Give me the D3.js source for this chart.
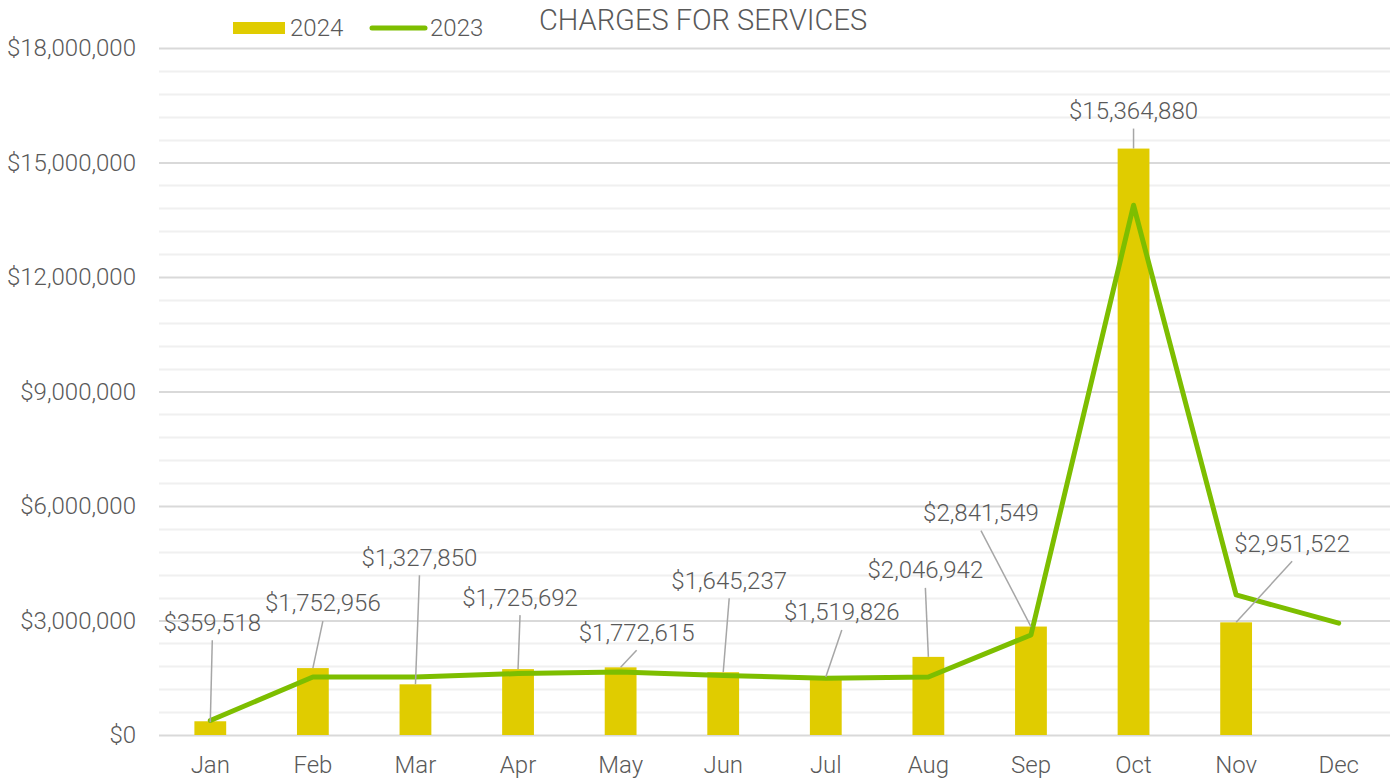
<!DOCTYPE html>
<html><head><meta charset="utf-8">
<script src="https://cdn.jsdelivr.net/npm/d3@7/dist/d3.min.js"></script>
<style>
html,body{margin:0;padding:0;background:#fff;}
text{font-family:Roboto, "Noto Sans", sans-serif;font-weight:300;fill:#595959;}
</style></head>
<body><svg id="chart" width="1392" height="780"></svg>
<script>
const months = ["Jan","Feb","Mar","Apr","May","Jun","Jul","Aug","Sep","Oct","Nov","Dec"];
const values2024 = [359518,1752956,1327850,1725692,1772615,1645237,1519826,2046942,2841549,15364880,2951522,null];
const values2023 = [380000,1520000,1520000,1610000,1650000,1560000,1490000,1520000,2620000,13880000,3670000,2930000];
const yTicks = [0,3000000,6000000,9000000,12000000,15000000,18000000];
const title = "CHARGES FOR SERVICES";
const seriesNames = ["2024","2023"];

const W=1392,H=780;
const m={left:159,right:2,top:48,bottom:45};
const svg=d3.select("#chart");
const x=d3.scaleBand().domain(months).range([m.left,W-m.right]).paddingInner(0.69).paddingOuter(0.345);
const y=d3.scaleLinear().domain([0,18000000]).range([H-m.bottom,m.top]);

// minor grid
const minor=d3.range(0,18000001,600000).filter(v=>v%3000000!==0);
svg.append("g").selectAll("line").data(minor).join("line")
 .attr("x1",m.left).attr("x2",W-m.right).attr("y1",d=>Math.round(y(d))+0.5).attr("y2",d=>Math.round(y(d))+0.5)
 .attr("stroke","#f0f0f0").attr("stroke-width",2);
// major grid via axis
const yAxis=d3.axisLeft(y).tickValues(yTicks).tickSize(-(W-m.right-m.left)).tickPadding(23)
 .tickFormat(d=>"$"+d3.format(",")(d));
const gy=svg.append("g").attr("transform",`translate(${m.left},0)`).call(yAxis);
gy.select(".domain").remove();
gy.selectAll(".tick line").attr("stroke","#d9d9d9").attr("stroke-width",2);
gy.selectAll(".tick text").attr("font-size",24).style("font-family","Roboto").style("font-weight",300).attr("fill","#595959");

const xAxis=d3.axisBottom(x).tickSize(0).tickPadding(21);
const gx=svg.append("g").attr("transform",`translate(0,${H-m.bottom})`).call(xAxis);
gx.select(".domain").remove();
gx.selectAll(".tick text").attr("font-size",24).attr("fill","#595959");

// bars
svg.append("g").selectAll("rect").data(months.map((mo,i)=>({mo,v:values2024[i]})).filter(d=>d.v!=null)).join("rect")
 .attr("x",d=>x(d.mo)).attr("width",x.bandwidth()).attr("y",d=>y(d.v)).attr("height",d=>y(0)-y(d.v))
 .attr("fill","#e0cc00");

// line
const line=d3.line().x((d,i)=>x(months[i])+x.bandwidth()/2).y(d=>y(d));
svg.append("path").datum(values2023).attr("d",line).attr("fill","none").attr("stroke","#7dbe00")
 .attr("stroke-width",5).attr("stroke-linejoin","round").attr("stroke-linecap","round");

// data labels with leaders (layout offsets: label center dx, label center dy from bar top)
const labelLayout=[[2,-99],[10,-65],[4,-127],[2,-72],[16,-35],[6,-92],[16,-65],[-3,-87],[-50,-114],[0,-38],[56,-79]];
const lg=svg.append("g");
months.forEach((mo,i)=>{
  const v=values2024[i]; if(v==null) return;
  const bx=x(mo)+x.bandwidth()/2, by=y(v);
  const [dx,dy]=labelLayout[i];
  const lx=bx+dx, ly=by+dy;
  lg.append("line").attr("x1",lx).attr("y1",ly+18).attr("x2",bx).attr("y2",by+(i===0?1:0))
    .attr("stroke","#a6a6a6").attr("stroke-width",1.5);
  lg.append("text").attr("x",lx).attr("y",ly).attr("text-anchor","middle").attr("dy","0.35em")
    .attr("font-size",24).text("$"+d3.format(",")(v));
});

// title
svg.append("text").attr("x",703).attr("y",20).attr("dy","0.35em").attr("text-anchor","middle").attr("font-size",29).text(title);

// legend
const leg=svg.append("g");
leg.append("rect").attr("x",233).attr("y",22).attr("width",52).attr("height",12).attr("fill","#e0cc00");
leg.append("text").attr("x",290).attr("y",28).attr("dy","0.35em").attr("font-size",24).text(seriesNames[0]);
leg.append("line").attr("x1",372).attr("x2",425).attr("y1",28).attr("y2",28).attr("stroke","#7dbe00").attr("stroke-width",5).attr("stroke-linecap","round");
leg.append("text").attr("x",430).attr("y",28).attr("dy","0.35em").attr("font-size",24).text(seriesNames[1]);
</script></body></html>
